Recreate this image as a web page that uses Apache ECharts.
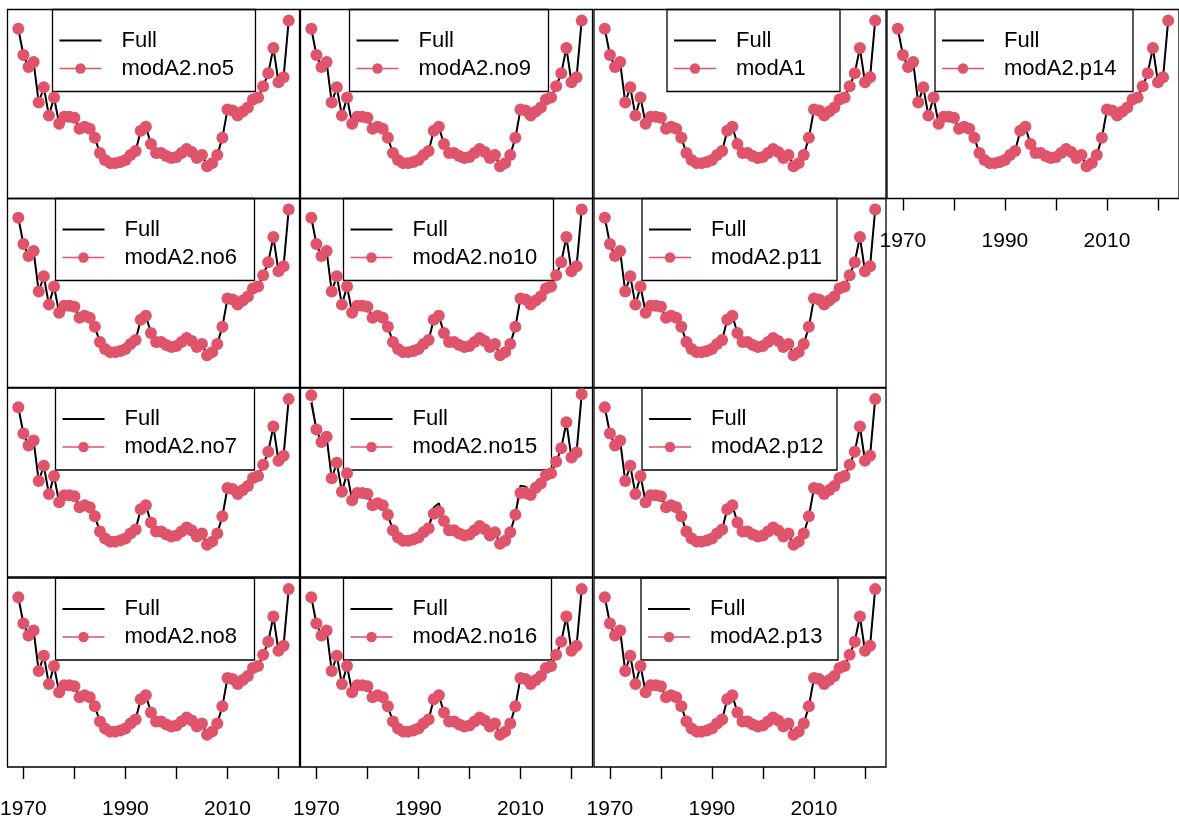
<!DOCTYPE html>
<html>
<head>
<meta charset="utf-8">
<script src="https://cdn.jsdelivr.net/npm/echarts@6/dist/echarts.min.js"></script>
<style>
html,body{margin:0;padding:0;background:#fff;}
#chart{width:1179px;height:823px;}
</style>
</head>
<body>
<div id="chart"></div>
<script>
// ---------------- data ----------------
const years = [1969,1970,1971,1972,1973,1974,1975,1976,1977,1978,1979,1980,1981,1982,1983,1984,1985,1986,1987,1988,1989,1990,1991,1992,1993,1994,1995,1996,1997,1998,1999,2000,2001,2002,2003,2004,2005,2006,2007,2008,2009,2010,2011,2012,2013,2014,2015,2016,2017,2018,2019,2020,2021,2022];
const full = [171,145,133,138,98,113,85,103,77,84,84,83,72,74,72,63,48,41,38,38,39,41,46,50,70,74,57,48,48,45,43,44,48,52,49,43,46,35,38,46,63,91,90,85,89,93,101,103,114,127,152,118,123,179];
const fitted = [171,145,133,138,98,113,85,103,77,84,84,83,72,74,72,63,48,41,38,38,39,41,46,50,70,74,57,48,48,45,43,44,48,52,49,43,46,35,38,46,63,91,90,85,89,93,101,103,114,127,152,118,123,179];
const fittedNo15 = [178,145,133,138,98,113,85,103,77,84,84,83,72,74,72,63,48,41,38,38,39,41,46,50,64,66,57,48,48,45,43,44,48,52,49,43,46,35,38,46,63,84,84,82,89,93,101,103,114,127,152,118,123,179];
const panelNames = [
  ['modA2.no5','modA2.no9','modA1','modA2.p14'],
  ['modA2.no6','modA2.no10','modA2.p11'],
  ['modA2.no7','modA2.no15','modA2.p12'],
  ['modA2.no8','modA2.no16','modA2.p13']
];
const tickYears = [1970,1980,1990,2000,2010,2020];
const labelYears = [1970,1990,2010];
const fullName = 'Full';

// ---------------- layout / style ----------------
const RED = '#DF536B';
const FONT = '"Liberation Sans", Arial, sans-serif';
const colLeft = [7.5, 300.5, 594, 887];
const rowTop = [9.5, 198.5, 388, 578];
const panelW = 292, panelH = 189;
const xMin = 1966.88, xMax = 2024.12;
const PT = 12;
// legend box insets [left, right] from panel edges
const legendInsets = [
  [[45,45],[49,45],[73,47],[48,47]],
  [[48,46],[43,40],[48,50]],
  [[48,46],[43,42],[48,50]],
  [[48,46],[43,42],[47,49]]
];
const yRanges = { default: [3, 190], 'modA2.no15': [3, 185] };
const modelValues = { 'modA2.no15': fittedNo15 };

const ctx = document.createElement('canvas').getContext('2d');
ctx.font = '22px ' + FONT;
function tw(s) { return ctx.measureText(s).width; }

const grids = [], xAxes = [], yAxes = [], series = [], legends = [];
let gi = 0;
panelNames.forEach((row, r) => {
  row.forEach((name, c) => {
    const below = panelNames[r + 1];
    const showAxis = !below || below[c] === undefined;
    const vals = modelValues[name] || fitted;
    const yr = yRanges[name] || yRanges.default;
    grids.push({
      left: colLeft[c], top: rowTop[r], width: panelW, height: panelH,
      outerBoundsMode: 'none', containLabel: false,
      show: true, borderColor: '#000', borderWidth: 1.3, backgroundColor: 'transparent'
    });
    xAxes.push({
      gridIndex: gi, type: 'value', min: xMin, max: xMax, show: showAxis,
      axisLine: { show: false }, splitLine: { show: false },
      axisTick: { show: true, length: 12, inside: false, customValues: tickYears,
                  lineStyle: { color: '#000', width: 1.4 } },
      axisLabel: { show: true, customValues: labelYears, margin: 32,
                   fontFamily: FONT, fontSize: 21, color: '#000',
                   formatter: v => String(v) }
    });
    yAxes.push({ gridIndex: gi, type: 'value', min: yr[0], max: yr[1], show: false });
    series.push({
      type: 'line', name: name, xAxisIndex: gi, yAxisIndex: gi,
      data: years.map((y, i) => [y, vals[i]]),
      symbol: 'circle', symbolSize: PT, showSymbol: false,
      lineStyle: { color: RED, width: 1 }, itemStyle: { color: RED },
      z: 2, silent: true, animation: false
    });
    series.push({
      type: 'line', name: fullName, xAxisIndex: gi, yAxisIndex: gi,
      data: years.map((y, i) => [y, full[i]]),
      symbol: 'none', lineStyle: { color: '#000', width: 2 }, itemStyle: { color: '#000' },
      z: 3, silent: true, animation: false
    });
    series.push({
      type: 'scatter', name: name + ' points', xAxisIndex: gi, yAxisIndex: gi,
      data: years.map((y, i) => [y, vals[i]]),
      symbol: 'circle', symbolSize: PT, itemStyle: { color: RED, opacity: 1 },
      z: 4, silent: true, animation: false
    });
    const ins = legendInsets[r][c];
    const boxLeft = colLeft[c] + ins[0];
    const boxW = panelW - ins[0] - ins[1];
    const textStart = 6 + 42 + 5 + 15;
    const textW = Math.max(tw(fullName), tw(name));
    const padR = Math.max(4, boxW - textStart - textW);
    legends.push({
      show: true, orient: 'vertical', left: boxLeft, top: rowTop[r],
      padding: [20, padR, 12, 6], itemGap: 6, itemWidth: 42, itemHeight: 13,
      borderColor: '#000', borderWidth: 1.3, borderRadius: 0, backgroundColor: 'transparent',
      selectedMode: false,
      textStyle: { fontFamily: FONT, fontSize: 22, lineHeight: 22, color: '#000', padding: [0, 0, 0, 15] },
      data: [
        { name: fullName, itemStyle: { color: 'rgba(0,0,0,0)', borderColor: 'rgba(0,0,0,0)', borderWidth: 0, opacity: 0 },
          lineStyle: { color: '#000', width: 2 } },
        { name: name, itemStyle: { color: RED }, lineStyle: { color: RED, width: 1.5 } }
      ]
    });
    gi++;
  });
});

const chart = echarts.init(document.getElementById('chart'), null, { renderer: 'canvas' });
chart.setOption({
  backgroundColor: '#fff',
  animation: false,
  grid: grids, xAxis: xAxes, yAxis: yAxes, series: series, legend: legends
});
</script>
</body>
</html>
